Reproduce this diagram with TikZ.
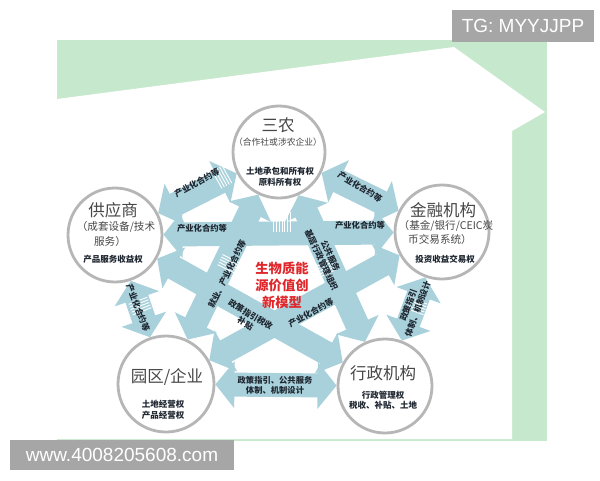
\documentclass[tikz,border=0pt]{standalone}
\usepackage{fontspec}
\setmainfont{Noto Sans CJK SC}
\newfontfamily\latfont{Liberation Sans}
\usetikzlibrary{arrows.meta}
\pgfdeclarelayer{bg}
\pgfdeclarelayer{arr}
\pgfsetlayers{bg,arr,main}
\definecolor{mint}{HTML}{C6E9CD}
\definecolor{band}{HTML}{A9D1DB}
\definecolor{ring}{HTML}{B6B6B6}
\definecolor{ttlc}{HTML}{474747}
\definecolor{lblc}{HTML}{1E2630}
\definecolor{redt}{HTML}{E0282C}
\definecolor{wmark}{HTML}{A6A6A6}
\newcommand\bandticks[3]{%
  \begin{scope}[shift={(#1)},rotate=#2]
    \foreach \k in {1,...,#3}{\draw[white,line width=0.9pt] ({(\k-(#3+1)/2)*2.8},-10) -- ({(\k-(#3+1)/2)*2.8},10);}
  \end{scope}}
\begin{document}
\begin{tikzpicture}[x=1pt,y=-1pt,
  party/.style={circle,draw=ring,line width=2.8pt,fill=white,inner sep=0pt},
  fat/.style={draw=band,line width=24pt,line cap=butt,
     {Triangle[length=19pt,width=46pt]}-{Triangle[length=19pt,width=46pt]}},
  ttl/.style={font=\fontsize{16.5}{18}\selectfont,text=ttlc,inner sep=0pt},
  sub/.style={font=\fontsize{10.6}{12}\selectfont,text=ttlc,inner sep=0pt},
  rgt/.style={font=\fontsize{8.5}{10.5}\selectfont\bfseries,text=lblc,inner sep=0pt,align=center},
  lab/.style={font=\fontsize{8.3}{10}\selectfont\bfseries,text=lblc,inner sep=0pt,align=center},
  wm/.style={fill=wmark,text=white,inner sep=0pt,font=\latfont\fontsize{19}{19}\selectfont}]
\useasboundingbox (0,0) rectangle (600,480);
% background
\begin{pgfonlayer}{bg}
\fill[mint] (57,40) rectangle (547,441);
\fill[white] (57,99) -- (454,47) -- (545,112) -- (512,131) -- (512,439) -- (57,439) -- cycle;
\end{pgfonlayer}
% parties
\node[party,minimum size=92pt] (sn) at (279,152) {};
\node[party,minimum size=94pt] (gys) at (115,235) {};
\node[party,minimum size=94pt] (jr) at (442,232) {};
\node[party,minimum size=96pt] (yq) at (166,384) {};
\node[party,minimum size=94pt] (xz) at (385,386) {};
% arrows
\begin{pgfonlayer}{arr}
\draw[fat] (sn) -- (gys);
\draw[fat] (sn) -- (jr);
\draw[fat] (gys) -- (yq);
\draw[fat] (jr) -- (xz);
\draw[fat] (yq) -- (xz);
\draw[fat] (gys) -- (jr);
\draw[fat] (sn) -- (yq);
\draw[fat] (sn) -- (xz);
\draw[fat] (gys) -- (xz);
\draw[fat] (yq) -- (jr);
\bandticks{222,177}{29}{5}
\bandticks{140,306}{-69}{5}
\bandticks{416,306}{70}{5}
\bandticks{282,222}{0}{7}
\bandticks{229,264}{64}{5}
\bandticks{324,269}{-65}{5}
\end{pgfonlayer}
% circle texts
\node[ttl] (snT) at (278,125) {三农};
\node[sub,font=\fontsize{8.8}{10}\selectfont] (snS) at (278,142) {（合作社或涉农企业）};
\node[rgt] (snR) at (280,177) {土地承包和所有权\\原料所有权};
\node[ttl] (gysT) at (113,210) {供应商};
\node[sub] (gysS1) at (116,227) {（成套设备/技术};
\node[sub] (gysS2) at (110,241) {服务）};
\node[rgt] (gysR) at (113,259) {产品服务收益权};
\node[ttl] (jrT) at (443,210) {金融机构};
\node[sub] (jrS1) at (446,226) {（基金/银行/CEIC炭};
\node[sub] (jrS2) at (440,239) {币交易系统）};
\node[rgt] (jrR) at (445,259) {投资收益交易权};
\node[ttl] (yqT) at (167,377) {园区/企业};
\node[rgt] (yqR) at (163,410) {土地经营权\\产品经营权};
\node[ttl] (xzT) at (383,373) {行政机构};
\node[rgt] (xzR) at (383,400) {行政管理权\\税收、补贴、土地};
% band labels
\node[lab,rotate=29] (l1) at (197,183) {产业化合约等};
\node[lab,rotate=-31] (l2) at (360,187) {产业化合约等};
\node[lab] (l3) at (202,228) {产业化合约等};
\node[lab] (l4) at (360,225) {产业化合约等};
\node[lab,rotate=-69] (l5) at (138,308) {产业化合约等};
\node[lab,rotate=70] (l6) at (413,307) {政策指引\\体制、机制设计};
\node[lab] (l7) at (275,385) {政策指引、公共服务\\体制、机制设计};
\node[lab,rotate=64] (l8) at (227,274) {就业、产业化合约等};
\node[lab,rotate=-31] (l9) at (248,319) {政策指引税收\\补贴};
\node[lab,rotate=-65] (l10) at (326,258) {公共服务\\基层行政管理组织};
\node[lab,rotate=29] (l11) at (311,313) {产业化合约等};
% core
\node[font=\fontsize{13.3}{17}\selectfont\bfseries,text=redt,align=center,inner sep=0pt] (core) at (282,285) {生物质能\\源价值创\\新模型};
% watermarks
\node[wm,minimum width=142pt,minimum height=32pt] (tg) at (523,26) {TG: MYYJJPP};
\node[wm,minimum width=224pt,minimum height=30pt] (www) at (122,455) {www.4008205608.com};
\end{tikzpicture}
\end{document}
